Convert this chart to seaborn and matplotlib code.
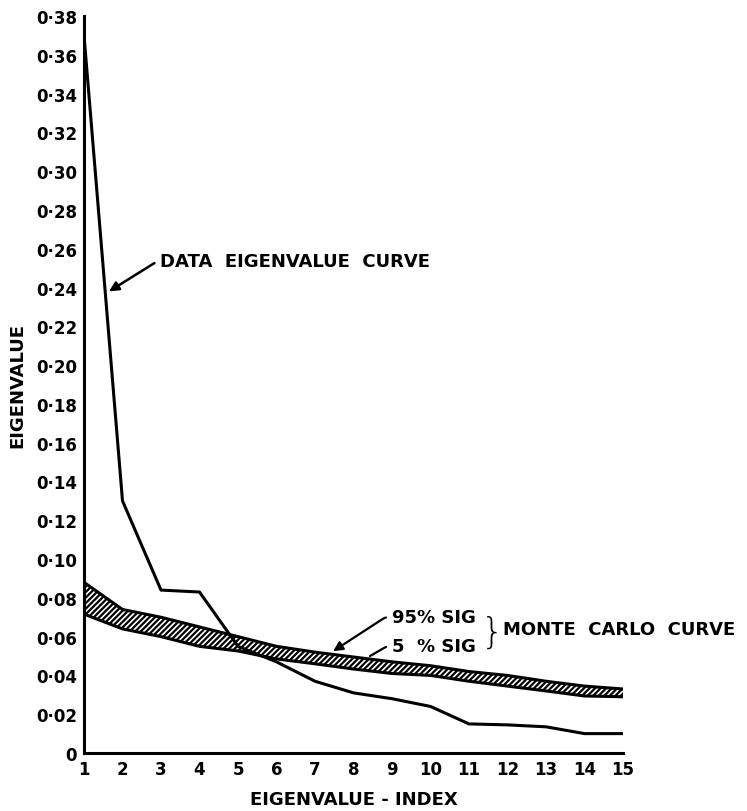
import matplotlib
matplotlib.use("Agg")
import matplotlib.pyplot as plt
import seaborn as sns
import pandas as pd
import numpy as np

# ---- data ----
index = list(range(1, 16))
data_eigen = [0.370, 0.130, 0.084, 0.083, 0.055, 0.047, 0.037, 0.031, 0.028, 0.024,
              0.015, 0.0145, 0.0135, 0.010, 0.010]
mc_95 = [0.088, 0.074, 0.070, 0.065, 0.060, 0.055, 0.052, 0.0495, 0.047, 0.045,
         0.042, 0.040, 0.037, 0.0345, 0.033]
mc_5 = [0.0716, 0.064, 0.060, 0.055, 0.0526, 0.0485, 0.046, 0.0433, 0.041, 0.040,
        0.037, 0.0345, 0.032, 0.0294, 0.029]
y_ticks = [0.00, 0.02, 0.04, 0.06, 0.08, 0.10, 0.12, 0.14, 0.16, 0.18, 0.20,
           0.22, 0.24, 0.26, 0.28, 0.30, 0.32, 0.34, 0.36, 0.38]
y_tick_labels = ["0", "0·02", "0·04", "0·06", "0·08", "0·10", "0·12", "0·14", "0·16",
                 "0·18", "0·20", "0·22", "0·24", "0·26", "0·28", "0·30", "0·32",
                 "0·34", "0·36", "0·38"]
x_tick_labels = [str(i) for i in index]

df = pd.DataFrame({"index": index, "data": data_eigen, "hi": mc_95, "lo": mc_5})

sns.set_style("white")
plt.rcParams["font.family"] = ["DejaVu Sans"]
plt.rcParams["hatch.linewidth"] = 1.6
plt.rcParams["text.color"] = "black"
plt.rcParams["axes.labelcolor"] = "black"
plt.rcParams["xtick.color"] = "black"
plt.rcParams["ytick.color"] = "black"

fig = plt.figure(figsize=(7.47, 8.12), dpi=100)
ax = fig.add_axes([84 / 747, 1 - 754 / 812, (623 - 84) / 747, (754 - 17) / 812])

# Monte Carlo band
ax.fill_between(df["index"], df["lo"], df["hi"], facecolor="white", edgecolor="black",
                hatch="//////", linewidth=0)
sns.lineplot(data=df, x="index", y="hi", ax=ax, color="black", linewidth=2.2)
sns.lineplot(data=df, x="index", y="lo", ax=ax, color="black", linewidth=2.2)
# Data eigenvalue curve
sns.lineplot(data=df, x="index", y="data", ax=ax, color="black", linewidth=2.2)

ax.set_xlim(1, 15)
ax.set_ylim(0, 0.38)
ax.set_xticks(index)
ax.set_xticklabels(x_tick_labels, fontsize=12, fontweight="bold", color="black")
ax.set_yticks(y_ticks)
ax.set_yticklabels(y_tick_labels, fontsize=12, fontweight="bold", color="black")
ax.tick_params(direction="in", length=6, width=1.6, pad=5)
for s in ["top", "right"]:
    ax.spines[s].set_visible(False)
for s in ["left", "bottom"]:
    ax.spines[s].set_linewidth(2.2)
    ax.spines[s].set_color("black")

ax.set_xlabel("EIGENVALUE - INDEX", fontsize=13, fontweight="bold", labelpad=9)
ax.set_ylabel("EIGENVALUE", fontsize=13, fontweight="bold", labelpad=7)

txt = dict(fontsize=13, fontweight="bold", color="black")
# Data curve annotation
ax.annotate("DATA  EIGENVALUE  CURVE", xy=(1.65, 0.238), xytext=(2.98, 0.2536),
            va="center", ha="left",
            arrowprops=dict(arrowstyle="-|>", color="black", lw=1.8,
                            connectionstyle="angle,angleA=0,angleB=32,rad=3",
                            shrinkA=2, shrinkB=0, mutation_scale=14), **txt)
# Monte Carlo labels
ax.annotate("95% SIG", xy=(7.47, 0.0525), xytext=(9.0, 0.070),
            va="center", ha="left",
            arrowprops=dict(arrowstyle="-|>", color="black", lw=1.6,
                            connectionstyle="angle,angleA=0,angleB=33,rad=3",
                            shrinkA=2, shrinkB=0, mutation_scale=14), **txt)
ax.annotate("5  % SIG", xy=(8.43, 0.050), xytext=(9.0, 0.055),
            va="center", ha="left",
            arrowprops=dict(arrowstyle="-", color="black", lw=1.6,
                            connectionstyle="angle,angleA=0,angleB=30,rad=3",
                            shrinkA=2, shrinkB=0), **txt)
ax.text(11.3, 0.0625, "}", fontsize=26, va="center", ha="left", fontweight="light")
ax.text(11.88, 0.0640, "MONTE  CARLO  CURVE", va="center", ha="left",
        clip_on=False, **txt)

fig.savefig("out.png", dpi=100)
